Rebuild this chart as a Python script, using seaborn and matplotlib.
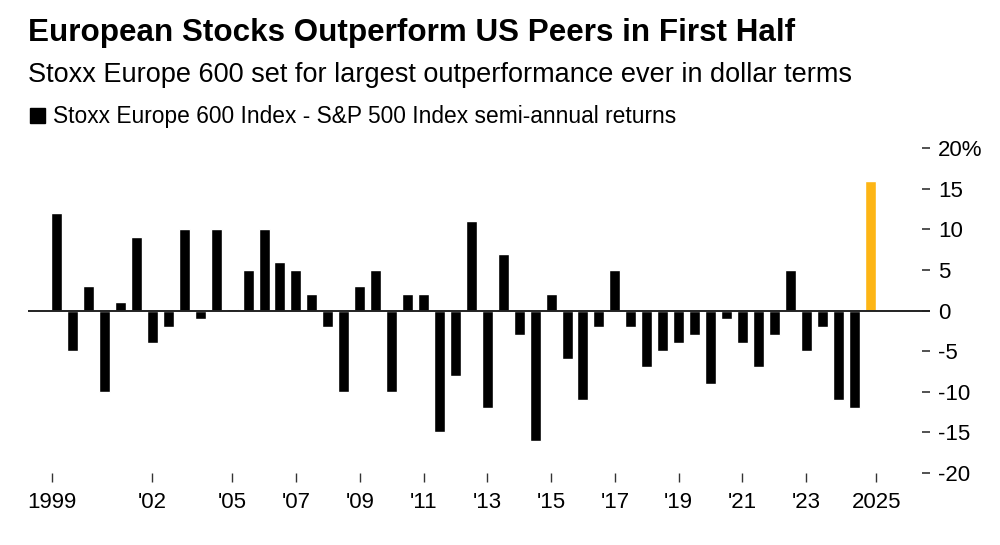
import matplotlib
matplotlib.use("Agg")
import matplotlib.pyplot as plt
from matplotlib.patches import Rectangle
import seaborn as sns
import pandas as pd

# semi-annual periods, 1999 H2 .. 2025 H1
periods = [f"{y} H{h}" for y in range(1999, 2026) for h in (1, 2)][1:-1]

# Stoxx Europe 600 minus S&P 500, semi-annual return in dollar terms (%)
returns = [12, -5, 3, -10, 1, 9, -4, -2, 10, -1,
           10, 0.2, 5, 10, 6, 5, 2, -2, -10, 3,
           5, -10, 2, 2, -15, -8, 11, -12, 7, -3,
           -16, 2, -6, -11, -2, 5, -2, -7, -5, -4,
           -3, -9, -1, -4, -7, -3, 5, -5, -2, -11,
           -12, 16]

# year labels and the bar they sit under
xtick_pos = [-0.3, 6, 11, 15, 19, 23, 27, 31, 35, 39, 43, 47, 51.4]
xtick_labels = ["1999", "'02", "'05", "'07", "'09", "'11", "'13",
                "'15", "'17", "'19", "'21", "'23", "2025"]
ytick_vals = [20, 15, 10, 5, 0, -5, -10, -15, -20]
ytick_labels = ["20%", "15", "10", "5", "0", "-5", "-10", "-15", "-20"]

BLACK = "#000000"
YELLOW = "#FDB515"

df = pd.DataFrame({"period": periods, "ret": returns})
df["kind"] = ["latest" if p == periods[-1] else "past" for p in df["period"]]

sns.set_style("white")
plt.rcParams["font.family"] = ["Liberation Sans", "DejaVu Sans"]
plt.rcParams["text.color"] = "black"
plt.rcParams["xtick.color"] = "black"
plt.rcParams["ytick.color"] = "black"

fig = plt.figure(figsize=(10, 5.45), dpi=100)
ax = fig.add_axes([0.028, 0.1321, 0.902, 0.5963])

sns.barplot(data=df, x="period", y="ret", hue="kind",
            palette={"past": BLACK, "latest": YELLOW},
            width=0.69, saturation=1, legend=False, ax=ax)

ax.axhline(0, color="#222222", lw=1.4, zorder=3)
ax.set_xlim(-1.8, 54.76)
ax.set_ylim(-20, 20)
for s in ax.spines.values():
    s.set_visible(False)

ax.set_xticks(xtick_pos)
ax.set_xticklabels(xtick_labels, fontsize=16)
ax.tick_params(axis="x", direction="out", length=6.5, width=1,
               color="#333333", pad=7, bottom=True)

ax.yaxis.tick_right()
ax.set_yticks(ytick_vals)
ax.set_yticklabels(ytick_labels, fontsize=16)
ax.tick_params(axis="y", direction="in", length=6, width=1.2,
               color="#333333", pad=6, right=True, left=False)
ax.set_xlabel("")
ax.set_ylabel("")

fig.text(0.028, 1 - 41 / 545, "European Stocks Outperform US Peers in First Half",
         fontsize=22.6, fontweight="bold", va="baseline")
fig.text(0.028, 1 - 82 / 545,
         "Stoxx Europe 600 set for largest outperformance ever in dollar terms",
         fontsize=19.5, va="baseline")
fig.patches.append(Rectangle((0.030, 1 - 123 / 545), 0.015, 15 / 545,
                             transform=fig.transFigure, color=BLACK))
fig.text(0.053, 1 - 123 / 545,
         "Stoxx Europe 600 Index - S&P 500 Index semi-annual returns",
         fontsize=16.4, va="baseline")

fig.savefig("out.png", dpi=100)
